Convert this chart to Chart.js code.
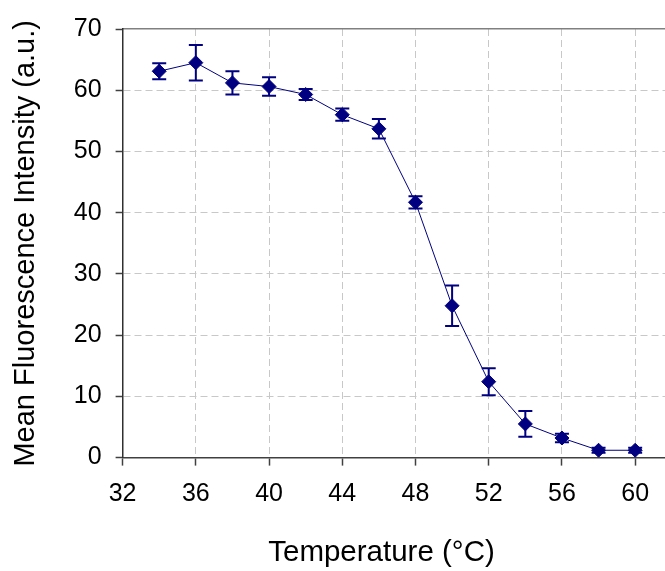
<!DOCTYPE html>
<html>
<head>
<meta charset="utf-8">
<script src="https://cdn.jsdelivr.net/npm/chart.js@4.4.1/dist/chart.umd.min.js"></script>
<style>
  html, body { margin: 0; padding: 0; background: #fff; overflow: hidden; }
  #wrap { position: absolute; left: 0; top: 0; width: 665px; height: 571px; }
</style>
</head>
<body>
<div id="wrap"><canvas id="chart"></canvas></div>
<script>
// values
const temperatures = [34, 36, 38, 40, 42, 44, 46, 48, 50, 52, 54, 56, 58, 60];
const intensity = [63.1, 64.5, 61.2, 60.6, 59.3, 56.0, 53.7, 41.7, 24.8, 12.4, 5.5, 3.2, 1.2, 1.2];
const intensityErr = [1.3, 2.9, 1.9, 1.5, 0.9, 1.0, 1.6, 1.0, 3.3, 2.2, 2.1, 0.7, 0.4, 0.4];
const xTicks = [32, 36, 40, 44, 48, 52, 56, 60];
const yTicks = [0, 10, 20, 30, 40, 50, 60, 70];

const navy = "#000080";
const fontFamily = "'Liberation Sans', Arial, sans-serif";

// draws the +/- error bars with caps, under the markers
const errorBars = {
  id: "errorBars",
  beforeDatasetsDraw(chart) {
    const ctx = chart.ctx;
    const xs = chart.scales.x;
    const ys = chart.scales.y;
    ctx.save();
    ctx.strokeStyle = navy;
    ctx.lineWidth = 2;
    temperatures.forEach((t, i) => {
      const px = xs.getPixelForValue(t);
      const top = ys.getPixelForValue(intensity[i] + intensityErr[i]);
      const bot = ys.getPixelForValue(intensity[i] - intensityErr[i]);
      ctx.beginPath();
      ctx.moveTo(px, top);
      ctx.lineTo(px, bot);
      ctx.moveTo(px - 7, top);
      ctx.lineTo(px + 7, top);
      ctx.moveTo(px - 7, bot);
      ctx.lineTo(px + 7, bot);
      ctx.stroke();
    });
    ctx.restore();
  }
};

// the plot runs right up to the edge of the picture
function noRightPad(scale) {
  scale.paddingRight = 0;
}

const ctx = document.getElementById("chart").getContext("2d");
new Chart(ctx, {
  type: "line",
  data: {
    datasets: [
      {
        label: "Mean Fluorescence Intensity",
        data: temperatures.map((t, i) => ({ x: t, y: intensity[i] })),
        borderColor: navy,
        borderWidth: 1,
        backgroundColor: navy,
        pointStyle: "rectRot",
        pointRadius: 7,
        pointBorderWidth: 1,
        pointBackgroundColor: navy,
        pointBorderColor: navy,
        tension: 0,
        fill: false,
      },
    ],
  },
  options: {
    responsive: true,
    maintainAspectRatio: false,
    animation: false,
    layout: { autoPadding: false, padding: { top: 27, right: 0, bottom: 0, left: 0 } },
    plugins: {
      legend: { display: false },
      tooltip: { enabled: false },
    },
    scales: {
      x: {
        type: "linear",
        min: 32,
        max: 61.63,
        afterBuildTicks: (scale) => {
          scale.ticks = xTicks.map((v) => ({ value: v }));
        },
        afterFit: noRightPad,
        grid: {
          color: (c) => (c.tick && c.tick.value === 32 ? "rgba(0,0,0,0)" : "#c8c8c8"),
          lineWidth: 1,
          tickLength: 8,
          tickColor: "#404040",
          tickWidth: 1.5,
        },
        border: { display: true, color: "#404040", width: 1.5, dash: [7, 4] },
        ticks: {
          color: "#000",
          padding: 14,
          font: { family: fontFamily, size: 25 },
        },
        title: {
          display: true,
          text: "Temperature (°C)\u00a0\u00a0\u00a0",
          color: "#000",
          padding: { top: 12, bottom: 0 },
          font: { family: fontFamily, size: 29.5 },
        },
      },
      x2: {
        type: "linear",
        position: "top",
        display: true,
        afterFit: noRightPad,
        grid: { display: false, drawTicks: false },
        ticks: { display: false },
        border: { display: true, color: "#808080", width: 1.5 },
      },
      y: {
        type: "linear",
        min: 0,
        max: 70,
        afterBuildTicks: (scale) => {
          scale.ticks = yTicks.map((v) => ({ value: v }));
        },
        grid: {
          color: (c) =>
            c.tick && (c.tick.value === 0 || c.tick.value === 70) ? "rgba(0,0,0,0)" : "#c8c8c8",
          lineWidth: 1,
          tickLength: 7,
          tickColor: "#404040",
          tickWidth: 1.5,
        },
        border: { display: true, color: "#303030", width: 1.5, dash: [7, 4] },
        ticks: {
          color: "#000",
          padding: 14,
          font: { family: fontFamily, size: 25 },
        },
        title: {
          display: true,
          text: "Mean Fluorescence Intensity (a.u.)",
          color: "#000",
          padding: { top: 9, bottom: 16 },
          font: { family: fontFamily, size: 29 },
        },
      },
    },
  },
  plugins: [errorBars],
});
</script>
</body>
</html>
